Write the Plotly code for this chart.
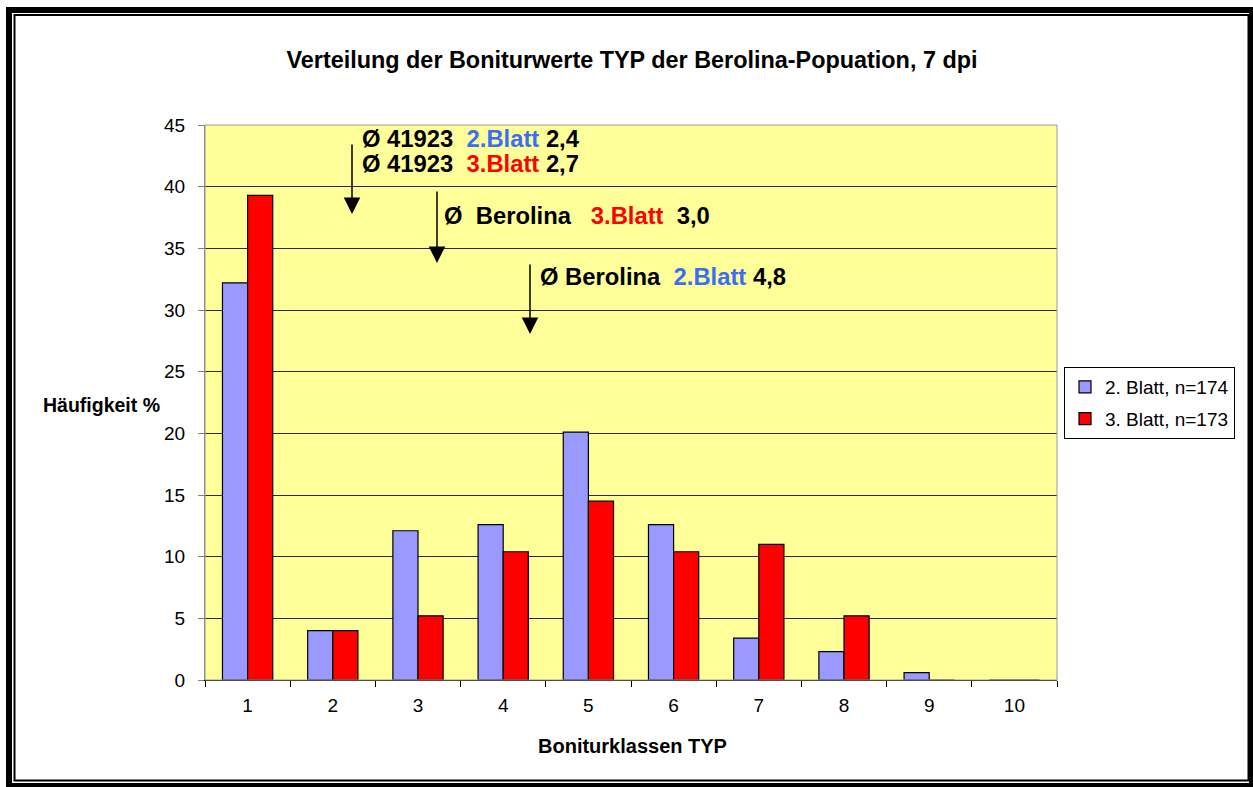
import plotly.graph_objects as go

categories = ["1", "2", "3", "4", "5", "6", "7", "8", "9", "10"]
blatt2_values = [32.2, 4.0, 12.1, 12.6, 20.1, 12.6, 3.4, 2.3, 0.6, 0.0]
blatt3_values = [39.3, 4.0, 5.2, 10.4, 14.5, 10.4, 11.0, 5.2, 0.0, 0.0]
series_names = ["2. Blatt, n=174", "3. Blatt, n=173"]
y_ticks = [0, 5, 10, 15, 20, 25, 30, 35, 40, 45]

W, H = 1253, 787
L, R, T, B = 205, 1057, 125, 680


def px(x):
    return (x - L) / (R - L)


def py(y):
    return (B - y) / (B - T)


FONT = "Liberation Sans, Arial, sans-serif"
BLUE_TXT = "#3A6EF5"

fig = go.Figure()
fig.add_trace(go.Bar(x=categories, y=blatt2_values, name=series_names[0],
                     marker=dict(color="#9999FF", line=dict(color="black", width=1.2)),
                     legendgroup="a"))
fig.add_trace(go.Bar(x=categories, y=blatt3_values, name=series_names[1],
                     marker=dict(color="#FF0000", line=dict(color="black", width=1.2)),
                     legendgroup="b"))

shapes = [
    dict(type="rect", xref="paper", yref="paper", x0=0, x1=1, y0=0, y1=1,
         line=dict(color="#9a9a9a", width=1), layer="above"),
    dict(type="rect", xref="paper", yref="paper", x0=px(9), x1=px(1252), y0=py(10), y1=py(786),
         line=dict(color="black", width=6)),
    dict(type="rect", xref="paper", yref="paper", x0=px(14.5), x1=px(1248.5), y0=py(15), y1=py(780.5),
         line=dict(color="black", width=2)),
]

ann = []
b = "<b>%s</b>"
lines = [
    ("Ø 41923\u00a0\u00a0<span style='color:%s'>2.Blatt</span> 2,4" % BLUE_TXT, 361, 138),
    ("Ø 41923\u00a0\u00a0<span style='color:#FF0000'>3.Blatt</span> 2,7", 361, 164),
    ("Ø\u00a0\u00a0Berolina\u00a0\u00a0\u00a0<span style='color:#FF0000'>3.Blatt</span>\u00a0\u00a03,0", 443, 215),
    ("Ø Berolina\u00a0\u00a0<span style='color:%s'>2.Blatt</span> 4,8" % BLUE_TXT, 539, 276),
]
for txt, x, y in lines:
    ann.append(dict(text=b % txt, xref="paper", yref="paper", x=px(x), y=py(y),
                    xanchor="left", yanchor="middle", showarrow=False, borderpad=0,
                    font=dict(family=FONT, size=23.8, color="black")))

arrows = [(352, 143, 214), (437, 190, 263), (530, 263, 334)]
for x, y0, y1 in arrows:
    ann.append(dict(text="", xref="paper", yref="paper", x=px(x), y=py(y1),
                    ax=0, ay=-(y1 - y0), axref="pixel", ayref="pixel",
                    showarrow=True, arrowhead=2, arrowsize=2.2, arrowwidth=1.5,
                    arrowcolor="black"))

ann.append(dict(text="<b>Häufigkeit %</b>", xref="paper", yref="paper", x=px(101), y=py(405),
                xanchor="center", yanchor="middle", showarrow=False,
                font=dict(family=FONT, size=19.5, color="black")))
ann.append(dict(text="<b>Boniturklassen TYP</b>", xref="paper", yref="paper", x=px(632), y=py(746),
                xanchor="center", yanchor="middle", showarrow=False,
                font=dict(family=FONT, size=20, color="black")))

fig.update_layout(
    width=W, height=H,
    margin=dict(l=L, r=W - R, t=T, b=H - B, pad=0),
    paper_bgcolor="white",
    plot_bgcolor="#FFFF99",
    font=dict(family=FONT, size=19, color="black"),
    title=dict(text="<b>Verteilung der Boniturwerte TYP der Berolina-Popuation, 7 dpi</b>",
               x=px(632), xref="paper", xanchor="center", y=1 - 60 / H, yanchor="middle",
               font=dict(family=FONT, size=23.4, color="black")),
    barmode="group", bargap=0.41, bargroupgap=0,
    xaxis=dict(type="category", tickson="boundaries", ticks="outside", ticklen=6,
               tickcolor="black", showline=True, linecolor="black", linewidth=1,
               showgrid=False, tickfont=dict(size=19), ticklabelstandoff=8,
               fixedrange=True),
    yaxis=dict(range=[0, 45], tickvals=y_ticks, ticks="outside", ticklen=6,
               tickcolor="#808080", showline=True, linecolor="#808080", linewidth=1,
               showgrid=True, gridcolor="#2a2a2a", gridwidth=1, zeroline=False,
               tickfont=dict(size=19), ticklabelstandoff=9, fixedrange=True),
    legend=dict(x=px(1064), y=py(367), xanchor="left", yanchor="top",
                bgcolor="white", bordercolor="black", borderwidth=1,
                font=dict(family=FONT, size=19), tracegroupgap=4,
                itemwidth=30),
    shapes=shapes,
    annotations=ann,
    showlegend=True,
)

fig.write_html("out.html", config={"displayModeBar": False},
               post_script="document.body.style.margin='0';document.body.style.padding='0';"
                           "document.body.style.overflow='hidden';")
